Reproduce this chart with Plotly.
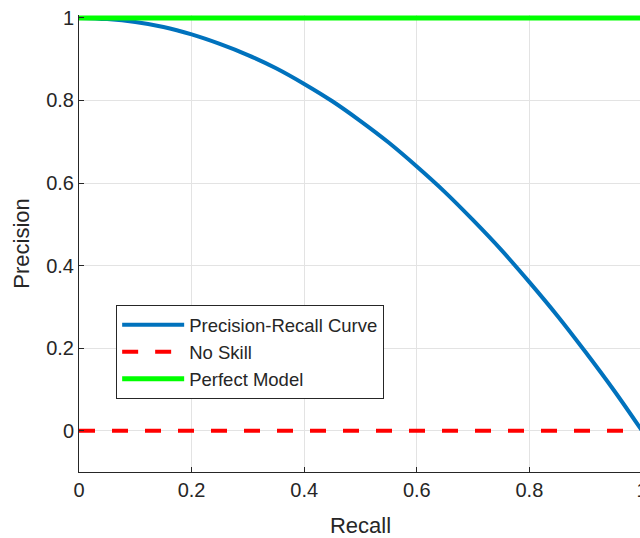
import plotly.graph_objects as go

recall = [0.0, 0.05, 0.1, 0.15, 0.2, 0.25, 0.3, 0.35, 0.4, 0.45, 0.5,
          0.55, 0.6, 0.65, 0.7, 0.75, 0.8, 0.85, 0.9, 0.95, 1.0]
precision = [1.0, 0.997, 0.99, 0.978, 0.96, 0.937, 0.91, 0.878, 0.84, 0.798, 0.75,
             0.698, 0.64, 0.578, 0.51, 0.438, 0.36, 0.278, 0.19, 0.098, 0.0]
no_skill_x = [0.0, 1.0]
no_skill_y = [0.0, 0.0]
perfect_x = [0.0, 1.0]
perfect_y = [1.0, 1.0]

x_ticks = [0, 0.2, 0.4, 0.6, 0.8, 1]
y_ticks = [0, 0.2, 0.4, 0.6, 0.8, 1]

font_family = "Liberation Sans, Arial, sans-serif"

fig = go.Figure()
fig.add_trace(go.Scatter(x=recall, y=precision, mode="lines", name="Precision-Recall Curve",
                         line=dict(color="#0072BD", width=4, shape="spline")))
fig.add_trace(go.Scatter(x=no_skill_x, y=no_skill_y, mode="lines", name="No Skill",
                         line=dict(color="#FF0000", width=4, dash="16px,17px")))
fig.add_trace(go.Scatter(x=perfect_x, y=perfect_y, mode="lines", name="Perfect Model",
                         line=dict(color="#00FF00", width=5)))

axis_common = dict(
    showgrid=True, gridcolor="#e3e3e3", gridwidth=1,
    showline=True, linecolor="#262626", linewidth=1,
    ticks="inside", ticklen=5, tickcolor="#262626",
    tickfont=dict(size=20, color="#262626", family=font_family),
    zeroline=False, mirror=False, automargin=False,
)

fig.update_layout(
    width=650, height=538,
    margin=dict(l=79, r=8, t=15, b=66),
    paper_bgcolor="white", plot_bgcolor="white",
    font=dict(family=font_family, color="#262626"),
    xaxis=dict(range=[0, 1], tickvals=x_ticks, ticktext=[str(t) for t in x_ticks],
               title=dict(text="Recall", font=dict(size=22, color="#262626"), standoff=17),
               **axis_common),
    yaxis=dict(range=[-0.1, 1.007], tickvals=y_ticks, ticktext=[str(t) for t in y_ticks],
               title=dict(text="Precision", font=dict(size=22, color="#262626"), standoff=10),
               **axis_common),
    legend=dict(x=0.066, y=0.365, xanchor="left", yanchor="top",
                bgcolor="white", bordercolor="#262626", borderwidth=1,
                font=dict(size=18.5, color="#262626", family=font_family),
                itemwidth=62, tracegroupgap=0),
    showlegend=True,
)

fig.write_html("out.html", config={"displayModeBar": False},
               post_script="document.body.style.margin='0';document.body.style.overflow='hidden';")
